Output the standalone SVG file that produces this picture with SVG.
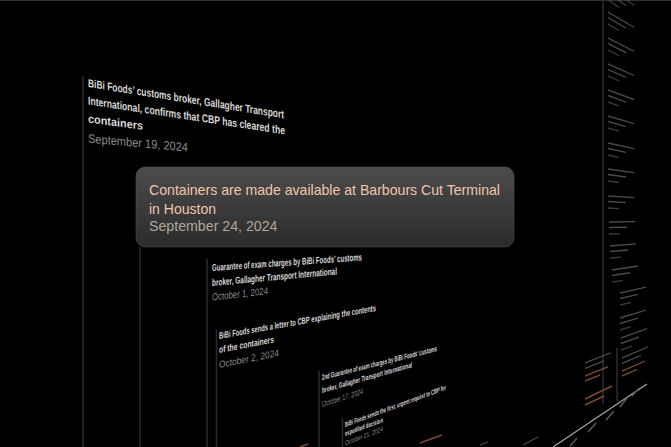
<svg xmlns="http://www.w3.org/2000/svg" xmlns:xlink="http://www.w3.org/1999/xlink" width="671" height="447" viewBox="0 0 671 447">
<style>
text{font-family:"Liberation Sans",Arial,sans-serif}
.ev{fill:#d6d6d6;font-weight:bold}
.dt{fill:#8a8a8a}
.stem{stroke:#2a2a2a;stroke-width:1.6;fill:none}
.far{stroke:#6c6c6c;stroke-width:1.3;opacity:.7}
.fard{stroke:#3c3c3c;stroke-width:1.3}
.faro{stroke:#7a4a2e;stroke-width:1.4}
.tick{stroke:#5e5e5e;stroke-width:1.4}
</style>
<defs>
<linearGradient id="boxg" x1="0" y1="0" x2="0" y2="1">
<stop offset="0" stop-color="#4c4c4c"/>
<stop offset="1" stop-color="#2b2b2b"/>
</linearGradient>
<g id="farItem">
<line class="far" x1="0" y1="0" x2="26" y2="0"/>
<line class="far" x1="0" y1="5.5" x2="18" y2="5.5"/>
<line class="fard" x1="0" y1="12" x2="11" y2="12"/>
</g>
<g id="farItemO">
<line class="far" x1="0" y1="0" x2="26" y2="0"/>
<line class="far" x1="0" y1="5.5" x2="19" y2="5.5"/>
<line class="faro" x1="0" y1="13" x2="23" y2="13"/>
<line class="faro" x1="0" y1="18" x2="15" y2="18"/>
</g>
</defs>
<rect width="671" height="447" fill="#000"/>
<line x1="0" y1="0.5" x2="671" y2="0.5" stroke="#333" stroke-width="1"/>

<g id="connectors">
<line class="stem" x1="83" y1="76" x2="83" y2="447"/>
<line class="stem" x1="140" y1="247" x2="140" y2="447"/>
<line class="stem" x1="207" y1="259" x2="207" y2="447"/>
<line class="stem" x1="216.5" y1="330" x2="216.5" y2="447"/>
<line class="stem" x1="319" y1="371" x2="319" y2="447"/>
<line class="stem" x1="342.5" y1="418" x2="342.5" y2="447"/>
<line class="stem" x1="603" y1="0" x2="603" y2="404"/>
<line class="stem" x1="617" y1="348" x2="617" y2="401"/>
</g>

<g id="event-sep19">
<text class="ev" font-size="11.4" textLength="196" lengthAdjust="spacingAndGlyphs" transform="matrix(1 0.16 0 1 88 87)">BiBi Foods’ customs broker, Gallagher Transport</text>
<text class="ev" font-size="11.4" textLength="197" lengthAdjust="spacingAndGlyphs" transform="matrix(1 0.152 0 1 88 104.5)">International, confirms that CBP has cleared the</text>
<text class="ev" font-size="11.6" textLength="55" lengthAdjust="spacingAndGlyphs" transform="matrix(1 0.135 0 1 88 122.5)">containers</text>
<text class="dt" font-size="12.2" textLength="100" lengthAdjust="spacingAndGlyphs" transform="matrix(1 0.09 0 1 88 142.5)">September 19, 2024</text>
</g>

<g id="event-oct1">
<text class="ev" font-size="9.8" textLength="150" lengthAdjust="spacingAndGlyphs" transform="matrix(1 -0.07 0 1 212 271)">Guarantee of exam charges by BiBi Foods’ customs</text>
<text class="ev" font-size="9.8" textLength="125" lengthAdjust="spacingAndGlyphs" transform="matrix(1 -0.092 0 1 212 286)">broker, Gallagher Transport International</text>
<text class="dt" font-size="10.2" textLength="56" lengthAdjust="spacingAndGlyphs" transform="matrix(1 -0.11 0 1 212 300.5)">October 1, 2024</text>
</g>

<g id="event-oct2">
<text class="ev" font-size="9.3" textLength="157" lengthAdjust="spacingAndGlyphs" transform="matrix(1 -0.178 0 1 219 339)">BiBi Foods sends a letter to CBP explaining the contents</text>
<text class="ev" font-size="9.5" textLength="55" lengthAdjust="spacingAndGlyphs" transform="matrix(1 -0.19 0 1 219 353)">of the containers</text>
<text class="dt" font-size="9.8" textLength="60" lengthAdjust="spacingAndGlyphs" transform="matrix(1 -0.2 0 1 219 368)">October 2, 2024</text>
</g>

<g id="event-oct17">
<text class="ev" font-size="7.8" textLength="115" lengthAdjust="spacingAndGlyphs" transform="matrix(1 -0.25 0 1 322 380)">2nd Guarantee of exam charges by BiBi Foods’ customs</text>
<text class="ev" font-size="7.8" textLength="90" lengthAdjust="spacingAndGlyphs" transform="matrix(1 -0.285 0 1 322 393)">broker, Gallagher Transport International</text>
<text class="dt" font-size="8" textLength="41" lengthAdjust="spacingAndGlyphs" transform="matrix(1 -0.32 0 1 322 407)">October 17, 2024</text>
</g>

<g id="event-oct21">
<text class="ev" font-size="7" textLength="101" lengthAdjust="spacingAndGlyphs" transform="matrix(1 -0.37 0 1 345 427)">BiBi Foods sends the first, urgent request to CBP for</text>
<text class="ev" font-size="7" textLength="38" lengthAdjust="spacingAndGlyphs" transform="matrix(1 -0.36 0 1 345 436)">expedited decision</text>
<text class="dt" font-size="6.8" textLength="38" lengthAdjust="spacingAndGlyphs" transform="matrix(1 -0.38 0 1 345 445.5)">October 21, 2024</text>
</g>

<g id="event-sep24">
<rect x="136" y="167" width="378" height="80" rx="9" fill="url(#boxg)" stroke="#585858" stroke-opacity="0.5" stroke-width="1"/>
<text x="149" y="195" font-size="14.4" fill="#f0c6ad" textLength="351" lengthAdjust="spacingAndGlyphs">Containers are made available at Barbours Cut Terminal</text>
<text x="149" y="214" font-size="14.4" fill="#f0c6ad" textLength="67" lengthAdjust="spacingAndGlyphs">in Houston</text>
<text x="149" y="231" font-size="14.4" fill="#b3a498" textLength="128.5" lengthAdjust="spacingAndGlyphs">September 24, 2024</text>
</g>

<g id="far-events">
<use xlink:href="#farItem" transform="matrix(1 0.66 0 1 608 -12)"/>
<use xlink:href="#farItem" transform="matrix(1 0.589 0 1 608 12)"/>
<use xlink:href="#farItem" transform="matrix(1 0.514 0 1 608 38)"/>
<use xlink:href="#farItem" transform="matrix(1 0.44 0 1 608 64)"/>
<use xlink:href="#farItem" transform="matrix(1 0.365 0 1 608 90)"/>
<use xlink:href="#farItem" transform="matrix(1 0.29 0 1 608 116)"/>
<use xlink:href="#farItem" transform="matrix(1 0.213 0 1 608 143)"/>
<use xlink:href="#farItem" transform="matrix(1 0.138 0 1 608 169)"/>
<use xlink:href="#farItem" transform="matrix(1 0.06 0 1 608 196)"/>
<use xlink:href="#farItem" transform="matrix(1 -0.014 0 1 609 222)"/>
<use xlink:href="#farItem" transform="matrix(1 -0.084 0 1 610 246)"/>
<use xlink:href="#farItem" transform="matrix(1 -0.154 0 1 612 270)"/>
<use xlink:href="#farItem" transform="matrix(1 -0.226 0 1 620 293)"/>
<use xlink:href="#farItem" transform="matrix(1 -0.3 0 1 620 318)"/>
<use xlink:href="#farItem" transform="matrix(1 -0.36 0 1 621 338)"/>
<use xlink:href="#farItemO" transform="matrix(1 -0.43 0 1 622 358)"/>
<use xlink:href="#farItemO" transform="matrix(1 -0.4 0 1 585 363)"/>
<line class="faro" x1="585" y1="399" x2="612" y2="386"/>
<line class="faro" x1="585" y1="405" x2="604" y2="396"/>
</g>

<g id="bottom-fragments">
<line class="faro" x1="420" y1="443" x2="442" y2="435"/>
<line class="faro" x1="300" y1="447" x2="308" y2="444"/>
<line class="far" x1="480" y1="445" x2="488" y2="442"/>
<line class="far" x1="523" y1="445" x2="538" y2="437"/>
</g>

<g id="axis">
<line x1="553" y1="447" x2="647" y2="384" stroke="#a8a8a8" stroke-width="1.2"/>
<line class="tick" x1="570" y1="446" x2="577" y2="438"/>
<line class="tick" x1="588" y1="432" x2="596" y2="423"/>
<line class="tick" x1="606" y1="420" x2="614" y2="411"/>
<line class="tick" x1="620" y1="407" x2="627" y2="398"/>
<line class="tick" x1="632" y1="396" x2="639" y2="388"/>
</g>
</svg>
